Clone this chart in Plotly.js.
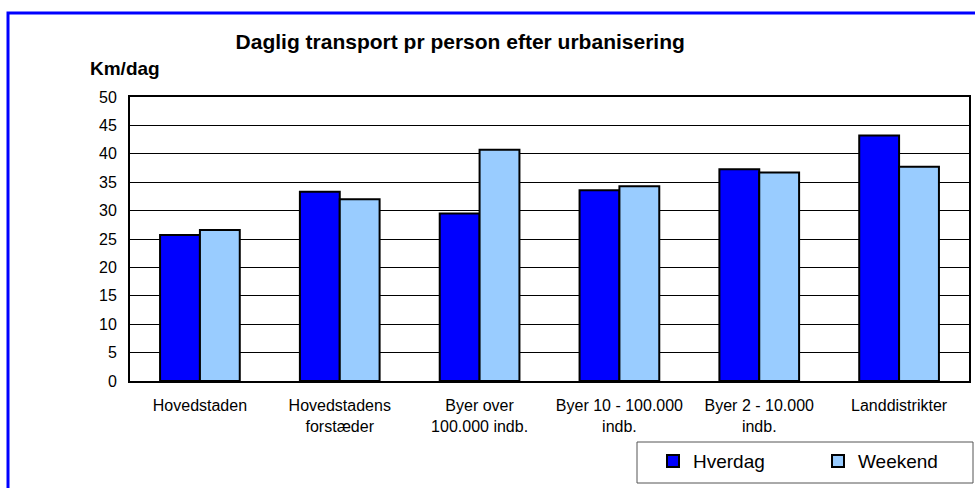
<!DOCTYPE html>
<html><head><meta charset="utf-8">
<script src="https://cdn.plot.ly/plotly-3.0.1.min.js"></script>
<style>html,body{margin:0;padding:0;background:#fff}</style>
</head><body>
<div id="chart" style="width:975px;height:488px"></div>
<script>
const categories = ["Hovedstaden", "Hovedstadens<br>forstæder", "Byer over<br>100.000 indb.", "Byer 10 - 100.000<br>indb.", "Byer 2 - 10.000<br>indb.", "Landdistrikter"];
const hverdag = [25.7, 33.3, 29.5, 33.6, 37.3, 43.2];
const weekend = [26.6, 32.0, 40.7, 34.3, 36.7, 37.7];
const yTicks = [0, 5, 10, 15, 20, 25, 30, 35, 40, 45, 50];

const font = "Arial, 'Liberation Sans', sans-serif";
const traces = [
  {type: "bar", name: "Hverdag", x: categories, y: hverdag,
   marker: {color: "#0000FF", line: {color: "#000", width: 2}}},
  {type: "bar", name: "Weekend", x: categories, y: weekend,
   marker: {color: "#99CCFF", line: {color: "#000", width: 2}}}
];
const layout = {
  width: 975, height: 488,
  margin: {l: 130, r: 6, t: 97, b: 107, autoexpand: false},
  paper_bgcolor: "#fff", plot_bgcolor: "#fff",
  font: {family: font, color: "#000", size: 16},
  barmode: "group", bargap: 0.43, bargroupgap: 0,
  title: {text: "<b>Daglig transport pr person efter urbanisering</b>",
          font: {size: 21, family: font, color: "#000"},
          xref: "container", x: 0.472, xanchor: "center",
          yref: "container", y: 1 - 42/488, yanchor: "middle"},
  xaxis: {type: "category", showgrid: false, showline: true, linecolor: "#000", linewidth: 2,
          mirror: true, ticks: "", tickfont: {size: 16}, tickangle: 0, automargin: false,
          ticklabelstandoff: 9},
  yaxis: {range: [0, 50], tickvals: yTicks, showgrid: true, gridcolor: "#000", gridwidth: 1,
          showline: true, linecolor: "#000", linewidth: 2, mirror: true, ticks: "",
          zeroline: false, tickfont: {size: 16}, ticklabelstandoff: 8, automargin: false},
  showlegend: true,
  legend: {orientation: "h", x: (653 - 130) / 839, xanchor: "left", y: -0.215, yanchor: "top",
           borderwidth: 0, bgcolor: "rgba(0,0,0,0)", font: {size: 19},
           entrywidth: 120, itemwidth: 30, traceorder: "normal"},
  annotations: [{text: "<b>Km/dag</b>", xref: "paper", yref: "paper", x: -0.006, y: 1.0986,
                 xanchor: "center", yanchor: "middle", showarrow: false, font: {size: 19}}],
  shapes: [
    {type: "rect", xref: "paper", yref: "paper", x0: -0.1454, x1: 1.2, y0: -0.5, y1: 1.2958,
     line: {color: "#0000FF", width: 3}, fillcolor: "rgba(0,0,0,0)", layer: "above"},
    {type: "rect", xref: "paper", yref: "paper",
     x0: (637 - 130) / 839, x1: (973 - 130) / 839, y0: (381 - 483) / 284, y1: (381 - 442) / 284,
     line: {color: "#555", width: 1}, fillcolor: "rgba(0,0,0,0)", layer: "below"}
  ]
};
Plotly.newPlot("chart", traces, layout, {displayModeBar: false, staticPlot: true});
</script>
</body></html>
